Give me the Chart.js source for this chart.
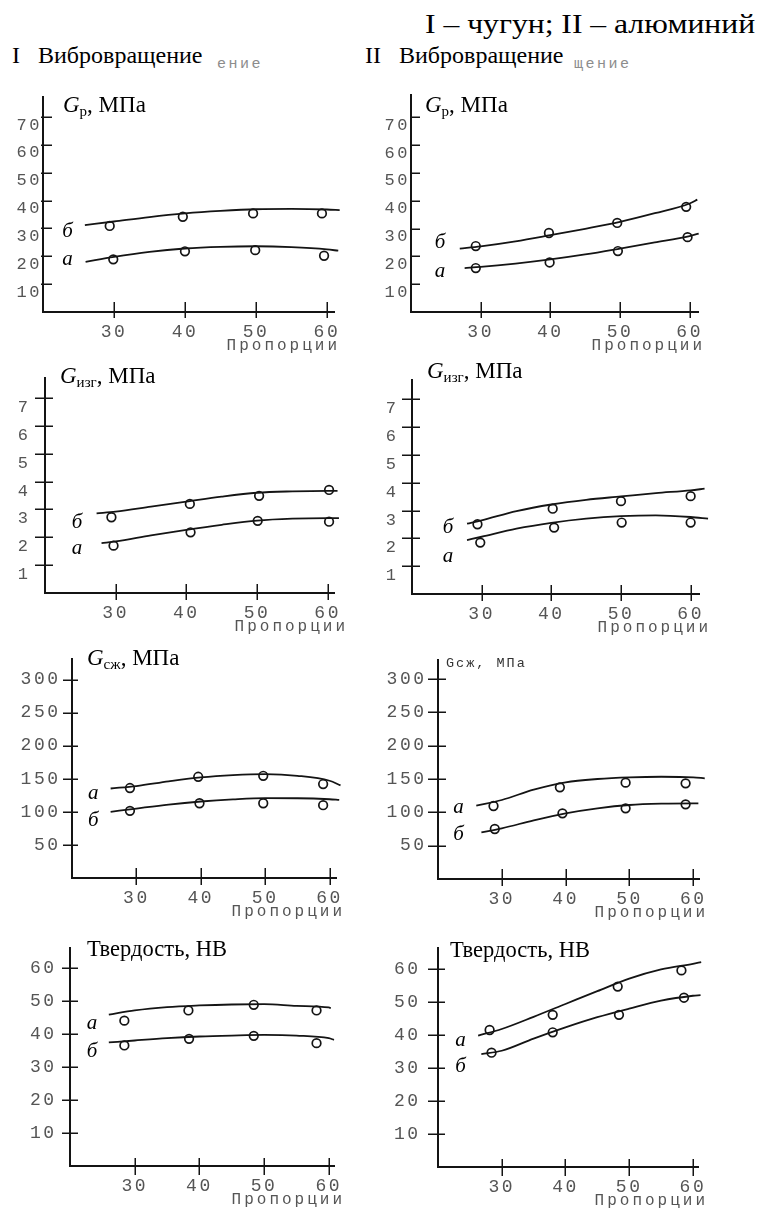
<!DOCTYPE html>
<html lang="ru"><head><meta charset="utf-8">
<title>Вибровращение: чугун и алюминий</title>
<script src="https://cdn.jsdelivr.net/npm/chart.js@4.4.1/dist/chart.umd.min.js"></script>
<style>
html,body{margin:0;padding:0;background:#fff}
body{position:relative;width:763px;height:1209px;overflow:hidden}
canvas{position:absolute}
.txt{position:absolute;white-space:nowrap;line-height:1;color:#000;font-family:"Liberation Serif","Times New Roman",serif;transform-origin:0 0}
.ghost{font-family:"Liberation Mono",monospace;color:#8c8c8c;letter-spacing:2.5px}
</style></head><body>
<div class="txt" style="left:425px;top:9.6px;font-size:28px;transform:scaleX(1.13)">I – чугун; II – алюминий</div>
<div class="txt" style="left:12px;top:42.9px;font-size:24px">I</div>
<div class="txt" style="left:38px;top:42.9px;font-size:24px">Вибровращение</div>
<div class="txt ghost" style="left:217px;top:56.5px;font-size:15px">ение</div>
<div class="txt" style="left:365px;top:42.9px;font-size:24px">II</div>
<div class="txt" style="left:399px;top:42.9px;font-size:24px">Вибровращение</div>
<div class="txt ghost" style="left:574px;top:56.5px;font-size:15px">щение</div>
<script>
// ---- tick values ----
const xTicks = [30, 40, 50, 60];
const yTicksStrength = [10, 20, 30, 40, 50, 60, 70];
const yTicksBend = [1, 2, 3, 4, 5, 6, 7];
const yTicksCompress = [50, 100, 150, 200, 250, 300];
const yTicksHardness = [10, 20, 30, 40, 50, 60];

// ---- I: cast iron, G_p ----
const ironTensileA = [[29.9,18.9],[40.0,21.8],[49.9,22.2],[59.6,20.2]];
const ironTensileB = [[29.4,30.9],[39.7,34.2],[49.6,35.4],[59.3,35.4]];
const ironTensileFitA = [[26,18.0],[30,19.8],[35,21.6],[40,22.8],[45,23.4],[50,23.6],[55,23.3],[60,22.5],[61.6,22.0]];
const ironTensileFitB = [[25.9,31.2],[30,32.5],[35,34.1],[40,35.4],[45,36.3],[50,36.9],[55,37.0],[60,36.8],[61.8,36.6]];
// ---- II: aluminium, G_p ----
const alumTensileA = [[29.3,15.8],[39.9,17.8],[49.7,21.9],[59.7,26.9]];
const alumTensileB = [[29.3,23.7],[39.8,28.4],[49.6,32.0],[59.5,37.8]];
const alumTensileFitA = [[27.7,15.8],[30,16.2],[35,17.4],[40,18.9],[45,20.7],[50,22.8],[55,25.0],[60,27.3],[61.3,28.2]];
const alumTensileFitB = [[27,22.8],[30,23.6],[35,25.4],[40,27.6],[45,29.9],[50,32.4],[55,35.5],[60,39.0],[61.1,40.4]];
// ---- I: cast iron, G_изг ----
const ironBendA = [[29.7,1.70],[40.6,2.18],[50.1,2.59],[60.2,2.56]];
const ironBendB = [[29.4,2.72],[40.5,3.20],[50.3,3.49],[60.2,3.70]];
const ironBendFitA = [[28,1.79],[30,1.85],[35,2.07],[40,2.27],[45,2.45],[50,2.60],[55,2.67],[60,2.69],[61.6,2.69]];
const ironBendFitB = [[27.3,2.86],[30,2.92],[35,3.10],[40,3.28],[45,3.46],[50,3.60],[55,3.65],[60,3.67],[61.4,3.67]];
// ---- II: aluminium, G_изг ----
const alumBendA = [[29.8,1.85],[40.4,2.39],[50.1,2.57],[60.0,2.57]];
const alumBendB = [[29.4,2.51],[40.2,3.07],[50.0,3.34],[60.0,3.52]];
const alumBendFitA = [[27.9,1.94],[30,2.06],[35,2.35],[40,2.56],[45,2.71],[50,2.80],[55,2.83],[60,2.77],[62.5,2.71]];
const alumBendFitB = [[27.9,2.53],[30,2.65],[35,2.98],[40,3.22],[45,3.39],[50,3.51],[55,3.63],[60,3.73],[62,3.79]];
// ---- I: cast iron, G_сж ----
const ironCompressA = [[29.0,136],[39.6,153],[49.7,154.5],[59.0,142]];
const ironCompressB = [[29.0,101.5],[39.8,113],[49.7,113],[59.0,110]];
const ironCompressFitA = [[26,135.3],[30,139],[35,146],[40,152],[45,155.5],[50,157],[55,154.5],[60,147],[61.7,140]];
const ironCompressFitB = [[26,100],[30,105],[35,111],[40,115.6],[45,118.8],[50,120.7],[55,120.5],[60,119],[61.5,118]];
// ---- II: aluminium, G_сж ----
const alumCompressA = [[28.7,109.5],[39.1,137.5],[49.4,144.5],[58.8,143.5]];
const alumCompressB = [[28.9,75],[39.5,98.5],[49.4,106],[58.8,112]];
const alumCompressFitA = [[26,110],[30,118.5],[35,134],[40,145],[45,150],[50,152.5],[55,153.4],[60,152.5],[61.8,151]];
const alumCompressFitB = [[26.8,70],[30,76],[35,88],[40,98.5],[45,106],[50,111],[55,113],[60,113.5],[60.8,113.5]];
// ---- I: cast iron, hardness HB ----
const ironHardA = [[28.4,44.0],[38.3,47.1],[48.4,48.8],[58.1,47.1]];
const ironHardB = [[28.4,36.5],[38.4,38.5],[48.4,39.4],[58.1,37.2]];
const ironHardFitA = [[26,45.8],[30,47.1],[35,48.1],[40,48.6],[45,48.9],[50,49.0],[55,48.5],[60,48.0],[60.3,47.8]];
const ironHardFitB = [[26,37.4],[30,38.0],[35,38.7],[40,39.2],[45,39.5],[50,39.7],[55,39.5],[60,38.7],[60.8,38.2]];
// ---- II: aluminium, hardness HB ----
const alumHardA = [[28.1,41.6],[38.0,46.2],[48.2,54.8],[58.2,59.7]];
const alumHardB = [[28.4,34.7],[38.0,40.9],[48.4,46.2],[58.6,51.4]];
const alumHardFitA = [[26.3,39.9],[30,41.9],[35,45.6],[40,49.5],[45,53.4],[50,57.2],[55,60.0],[60,61.7],[61.3,62.2]];
const alumHardFitB = [[26.8,34.3],[30,35.3],[35,39.0],[40,42.4],[45,45.5],[50,48.1],[55,50.5],[60,52.0],[61.2,52.2]];

const SERIF = '"Liberation Serif", "Times New Roman", serif';
const MONO = '"Liberation Mono", "DejaVu Sans Mono", monospace';
const TICKCOL = '#555555';
const INK = '#141414';

function gTitle(sub) {
  return [
    {t:'G', font:'italic 23px ' + SERIF},
    {t:sub, font:'15px ' + SERIF, dy:4},
    {t:', МПа', font:'23px ' + SERIF}
  ];
}
const hardTitle = [{t:'Твердость, НВ', font:'22.5px ' + SERIF}];

const panels = [
  {axisX:43, top:97, bottom:312, xEnd:334, xMax:61.0, yMax:77.2, yTicks:yTicksStrength,
   yPad:1, yOff:8, yFont:17, yTick:[2,9], xTick:[10,6],
   title:{dx:20, dy:15, parts:gTitle('р')},
   marks:[{t:'б',x:22.7,y:26.9},{t:'а',x:22.7,y:16.9}], propDx:3,
   a:ironTensileA, b:ironTensileB, fa:ironTensileFitA, fb:ironTensileFitB},
  {axisX:411, top:95, bottom:312, xEnd:698, xMax:61.2, yMax:78, yTicks:yTicksStrength,
   yPad:1, yOff:8, yFont:17, yTick:[1,9], xTick:[10,6],
   title:{dx:14, dy:17, parts:gTitle('р')},
   marks:[{t:'б',x:23.4,y:23.0},{t:'а',x:23.4,y:12.6}], propDx:4,
   a:alumTensileA, b:alumTensileB, fa:alumTensileFitA, fb:alumTensileFitB},
  {axisX:45, top:378, bottom:593, xEnd:334, xMax:60.9, yMax:7.72, yTicks:yTicksBend,
   yPad:14.5, yOff:9.5, yFont:17, yTick:[10,8], xTick:[9,7],
   title:{dx:15, dy:5, parts:gTitle('изг')},
   marks:[{t:'б',x:23.8,y:2.33},{t:'а',x:23.8,y:1.40}], propDx:11,
   a:ironBendA, b:ironBendB, fa:ironBendFitA, fb:ironBendFitB},
  {axisX:412, top:380, bottom:594, xEnd:699, xMax:61.2, yMax:7.7, yTicks:yTicksBend,
   yPad:13.5, yOff:9.5, yFont:17, yTick:[10,8], xTick:[9,7],
   title:{dx:15, dy:-2, parts:gTitle('изг')},
   marks:[{t:'б',x:24.4,y:2.19},{t:'а',x:24.4,y:1.15}], propDx:9,
   a:alumBendA, b:alumBendB, fa:alumBendFitA, fb:alumBendFitB},
  {axisX:72, top:659, bottom:878, xEnd:336, xMax:61.0, yMax:331, yTicks:yTicksCompress,
   yPad:11.5, yOff:0, yFont:18, yTick:[9,6], xTick:[10,7],
   title:{dx:15, dy:6, parts:gTitle('сж')},
   marks:[{t:'а',x:22.5,y:120},{t:'б',x:22.5,y:79}], propDx:6,
   a:ironCompressA, b:ironCompressB, fa:ironCompressFitA, fb:ironCompressFitB},
  {axisX:438, top:660, bottom:879, xEnd:699, xMax:60.9, yMax:328.5, yTicks:yTicksCompress,
   yPad:11.5, yOff:0, yFont:18, yTick:[10,8], xTick:[10,7],
   title:{dx:8, dy:7, parts:[{t:'Gсж, МПа', font:'13.5px ' + MONO, color:'#333', ls:'2px'}]},
   marks:[{t:'а',x:22.4,y:99},{t:'б',x:22.4,y:58.5}], propDx:6,
   a:alumCompressA, b:alumCompressB, fa:alumCompressFitA, fb:alumCompressFitB},
  {axisX:70, top:948, bottom:1166, xEnd:334, xMax:60.8, yMax:66, yTicks:yTicksHardness,
   yPad:13.5, yOff:0, yFont:18, yTick:[8,8], xTick:[8,9],
   title:{dx:17, dy:8, parts:hardTitle},
   marks:[{t:'а',x:22.6,y:41.5},{t:'б',x:22.6,y:33}], propDx:8,
   a:ironHardA, b:ironHardB, fa:ironHardFitA, fb:ironHardFitB},
  {axisX:438, top:948, bottom:1167, xEnd:698, xMax:60.8, yMax:66.5, yTicks:yTicksHardness,
   yPad:17.5, yOff:0, yFont:18, yTick:[10,7], xTick:[8,9],
   title:{dx:12, dy:9, parts:hardTitle},
   marks:[{t:'а',x:22.7,y:36.7},{t:'б',x:22.7,y:28.8}], propDx:7,
   a:alumHardA, b:alumHardB, fa:alumHardFitA, fb:alumHardFitB}
];

const decor = {
  id: 'decor',
  beforeDraw(chart) { chart.ctx.letterSpacing = '2.5px'; },
  afterDraw(chart, args, o) {
    const ctx = chart.ctx, xs = chart.scales.x, ys = chart.scales.y, ca = chart.chartArea;
    ctx.save();
    ctx.letterSpacing = '0px';
    ctx.strokeStyle = INK; ctx.lineWidth = 1.5;
    ctx.beginPath();
    ys.ticks.forEach(t => {
      const y = Math.round(ys.getPixelForValue(t.value)) + 0.25;
      ctx.moveTo(ca.left - o.yTick[0], y); ctx.lineTo(ca.left + o.yTick[1], y);
    });
    xs.ticks.forEach(t => {
      const x = Math.round(xs.getPixelForValue(t.value)) + 0.25;
      ctx.moveTo(x, ca.bottom - o.xTick[0]); ctx.lineTo(x, ca.bottom + o.xTick[1]);
    });
    ctx.stroke();
    ctx.textAlign = 'left'; ctx.textBaseline = 'alphabetic';
    let x = ca.left + o.title.dx;
    const y = ca.top + o.title.dy;
    o.title.parts.forEach(p => {
      ctx.font = p.font; ctx.fillStyle = p.color || '#000'; ctx.letterSpacing = p.ls || '0px';
      ctx.fillText(p.t, x, y + (p.dy || 0));
      x += ctx.measureText(p.t).width;
    });
    ctx.letterSpacing = '0px';
    ctx.font = 'italic 21px ' + SERIF; ctx.fillStyle = '#000';
    o.marks.forEach(m => ctx.fillText(m.t, xs.getPixelForValue(m.x), ys.getPixelForValue(m.y)));
    ctx.font = '16px ' + MONO; ctx.letterSpacing = '3px'; ctx.fillStyle = TICKCOL; ctx.textAlign = 'right';
    ctx.fillText('Пропорции', ca.right + o.propDx + 3, ca.bottom + 38);
    ctx.restore();
  }
};

const YW = 60, XH = 50, PT = 30, PR = 40;
const toXY = arr => arr.map(([x, y]) => ({x, y}));
const fitDs = arr => ({data: toXY(arr), borderColor: INK, borderWidth: 1.8, pointRadius: 0,
  cubicInterpolationMode: 'monotone', fill: false, clip: false});
const ptsDs = arr => ({data: toXY(arr), showLine: false, pointRadius: 4.3, pointBorderWidth: 1.7,
  pointBorderColor: INK, pointBackgroundColor: 'rgba(255,255,255,0)', clip: false});

panels.forEach(p => {
  const c = document.createElement('canvas');
  const w = YW + (p.xEnd - p.axisX) + PR, h = PT + (p.bottom - p.top) + XH;
  c.width = w; c.height = h;
  c.style.left = (p.axisX - YW) + 'px'; c.style.top = (p.top - PT) + 'px';
  c.style.width = w + 'px'; c.style.height = h + 'px';
  document.body.appendChild(c);
  new Chart(c, {
    type: 'line',
    data: {datasets: [fitDs(p.fa), fitDs(p.fb), ptsDs(p.a), ptsDs(p.b)]},
    options: {
      responsive: false, animation: false, devicePixelRatio: 1,
      events: [],
      layout: {padding: {top: PT, right: PR, left: 0, bottom: 0}},
      plugins: {legend: {display: false}, tooltip: {enabled: false},
        decor: {yTick: p.yTick, xTick: p.xTick, title: p.title, marks: p.marks, propDx: p.propDx}},
      scales: {
        x: {type: 'linear', min: 20, max: p.xMax, bounds: 'data',
          afterBuildTicks: s => { s.ticks = xTicks.map(v => ({value: v})); },
          afterFit: s => { s.height = XH; },
          grid: {display: false, drawTicks: false},
          border: {display: true, color: INK, width: 2},
          ticks: {autoSkip: false, maxRotation: 0, padding: 9, color: TICKCOL, font: {family: MONO, size: 18}}},
        y: {type: 'linear', min: 0, max: p.yMax, bounds: 'data',
          afterBuildTicks: s => { s.ticks = p.yTicks.map(v => ({value: v})); },
          afterFit: s => { s.width = YW; },
          grid: {display: false, drawTicks: false},
          border: {display: true, color: INK, width: 2},
          ticks: {autoSkip: false, padding: p.yPad, labelOffset: p.yOff, color: TICKCOL, font: {family: MONO, size: p.yFont}}}
      }
    },
    plugins: [decor]
  });
});
</script>
</body></html>
